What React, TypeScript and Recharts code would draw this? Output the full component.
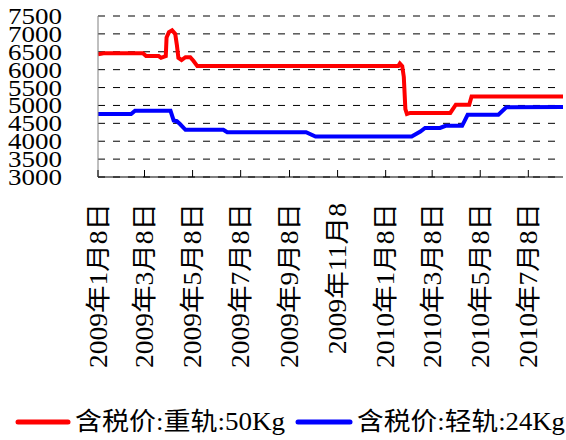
import React from 'react';
import { LineChart, Line, XAxis, YAxis, CartesianGrid, Legend } from 'recharts';

const FONT = '"Liberation Serif", "DejaVu Serif", "Noto Sans CJK SC", serif';

// date string -> ms
const ms = (s: string) => Date.UTC(+s.slice(0, 4), +s.slice(5, 7) - 1, +s.slice(8, 10));

// width of a label in em, ascii counted as half width
const ems = (s: string) => Array.from(s).reduce((n, c) => n + (c.charCodeAt(0) < 128 ? 0.5 : 1), 0);

const xStart = '2009-01-08';
const xEnd = '2010-08-21';

const xTickDates = [
  '2009-01-08', '2009-03-08', '2009-05-08', '2009-07-08', '2009-09-08',
  '2009-11-08', '2010-01-08', '2010-03-08', '2010-05-08', '2010-07-08',
];
const xTickLabels = [
  '2009年1月8日', '2009年3月8日', '2009年5月8日', '2009年7月8日', '2009年9月8日',
  '2009年11月8', '2010年1月8日', '2010年3月8日', '2010年5月8日', '2010年7月8日',
];
const yTicks = [3000, 3500, 4000, 4500, 5000, 5500, 6000, 6500, 7000, 7500];

// 含税价:重轨:50Kg
const heavyDates = [
  '2009-01-08', '2009-01-15', '2009-03-06', '2009-03-10', '2009-03-26', '2009-03-29',
  '2009-04-04', '2009-04-05', '2009-04-08', '2009-04-12', '2009-04-16', '2009-04-18',
  '2009-04-20', '2009-04-24', '2009-04-29', '2009-05-05', '2009-05-09', '2009-05-14',
  '2010-01-24', '2010-01-26', '2010-01-29', '2010-01-31', '2010-02-02', '2010-02-04',
  '2010-02-08', '2010-03-31', '2010-04-07', '2010-04-24', '2010-04-27', '2010-08-21',
];
const heavyValues = [
  6430, 6460, 6460, 6380, 6380, 6330,
  6380, 6900, 7050, 7100, 7000, 6700,
  6330, 6270, 6350, 6350, 6250, 6100,
  6100, 6170, 6100, 5800, 4900, 4760,
  4790, 4790, 5020, 5020, 5250, 5250,
];

// 含税价:轻轨:24Kg
const lightDates = [
  '2009-01-08', '2009-02-19', '2009-02-24', '2009-04-10', '2009-04-14', '2009-04-18',
  '2009-04-22', '2009-04-29', '2009-06-16', '2009-06-21', '2009-09-29', '2009-10-11',
  '2010-02-10', '2010-02-21', '2010-02-27', '2010-03-18', '2010-03-25', '2010-04-15',
  '2010-04-18', '2010-04-22', '2010-05-31', '2010-06-10', '2010-08-21',
];
const lightValues = [
  4760, 4760, 4850, 4850, 4580, 4560,
  4480, 4320, 4320, 4250, 4250, 4130,
  4130, 4270, 4370, 4370, 4430, 4430,
  4560, 4740, 4740, 4950, 4960,
];

const heavyData = heavyDates.map((d, i) => ({ t: ms(d), v: heavyValues[i] }));
const lightData = lightDates.map((d, i) => ({ t: ms(d), v: lightValues[i] }));
const xTicks = xTickDates.map(ms);

const XTick = ({ x, y, payload }: any) => {
  const label = xTickLabels[xTicks.indexOf(payload.value)] ?? '';
  const ty = y + 26;
  return (
    <g>
      <line x1={x} y1={y} x2={x} y2={y - 7} stroke="#000" strokeWidth={1} />
      <text
        x={x}
        y={ty}
        transform={`rotate(-90, ${x}, ${ty})`}
        textAnchor="end"
        dominantBaseline="central"
        fontSize={25}
        style={{ fontFamily: FONT }}
        textLength={ems(label) * 27.5}
        lengthAdjust="spacingAndGlyphs"
        fill="#000"
      >
        {label}
      </text>
    </g>
  );
};

const YTick = ({ x, y, payload }: any) => (
  <text
    x={x - 36}
    y={y}
    textAnchor="end"
    dominantBaseline="central"
    fontSize={24}
    style={{ fontFamily: FONT }}
    textLength={54}
    lengthAdjust="spacingAndGlyphs"
    fill="#000"
  >
    {payload.value}
  </text>
);

const LegendContent = () => (
  <svg width={566} height={50} style={{ display: 'block' }}>
    <line x1={18} y1={32} x2={68} y2={32} stroke="#ff0000" strokeWidth={5} strokeLinecap="round" />
    <text
      x={75}
      y={31}
      dominantBaseline="central"
      fontSize={25}
      style={{ fontFamily: FONT }}
      textLength={210}
      lengthAdjust="spacingAndGlyphs"
      fill="#000"
    >
      含税价:重轨:50Kg
    </text>
    <line x1={298} y1={32} x2={350} y2={32} stroke="#0000ff" strokeWidth={5} strokeLinecap="round" />
    <text
      x={357}
      y={31}
      dominantBaseline="central"
      fontSize={25}
      style={{ fontFamily: FONT }}
      textLength={208}
      lengthAdjust="spacingAndGlyphs"
      fill="#000"
    >
      含税价:轻轨:24Kg
    </text>
  </svg>
);

export default function App() {
  return (
    <div style={{ position: 'absolute', left: 0, top: 0, width: 566, height: 440, background: '#fff' }}>
      <LineChart width={566} height={440} margin={{ top: 16, right: 3, left: 8, bottom: 0 }}>
        <CartesianGrid vertical={false} stroke="#000" strokeDasharray="7 8" />
        <XAxis
          type="number"
          dataKey="t"
          domain={[ms(xStart), ms(xEnd)]}
          ticks={xTicks}
          interval={0}
          tick={<XTick />}
          tickLine={false}
          tickSize={0}
          tickMargin={0}
          axisLine={{ stroke: '#000' }}
          height={213}
          allowDataOverflow
        />
        <YAxis
          type="number"
          domain={[3000, 7500]}
          ticks={yTicks}
          interval={0}
          tick={<YTick />}
          tickLine={false}
          tickSize={0}
          tickMargin={0}
          axisLine={{ stroke: '#808080' }}
          width={90}
        />
        <Legend
          verticalAlign="bottom"
          height={50}
          wrapperStyle={{ left: 0, bottom: 0, width: 566, height: 50 }}
          content={<LegendContent />}
        />
        <Line
          data={heavyData}
          dataKey="v"
          type="linear"
          stroke="#ff0000"
          strokeWidth={4}
          dot={false}
          isAnimationActive={false}
        />
        <Line
          data={lightData}
          dataKey="v"
          type="linear"
          stroke="#0000ff"
          strokeWidth={4}
          dot={false}
          isAnimationActive={false}
        />
      </LineChart>
    </div>
  );
}
